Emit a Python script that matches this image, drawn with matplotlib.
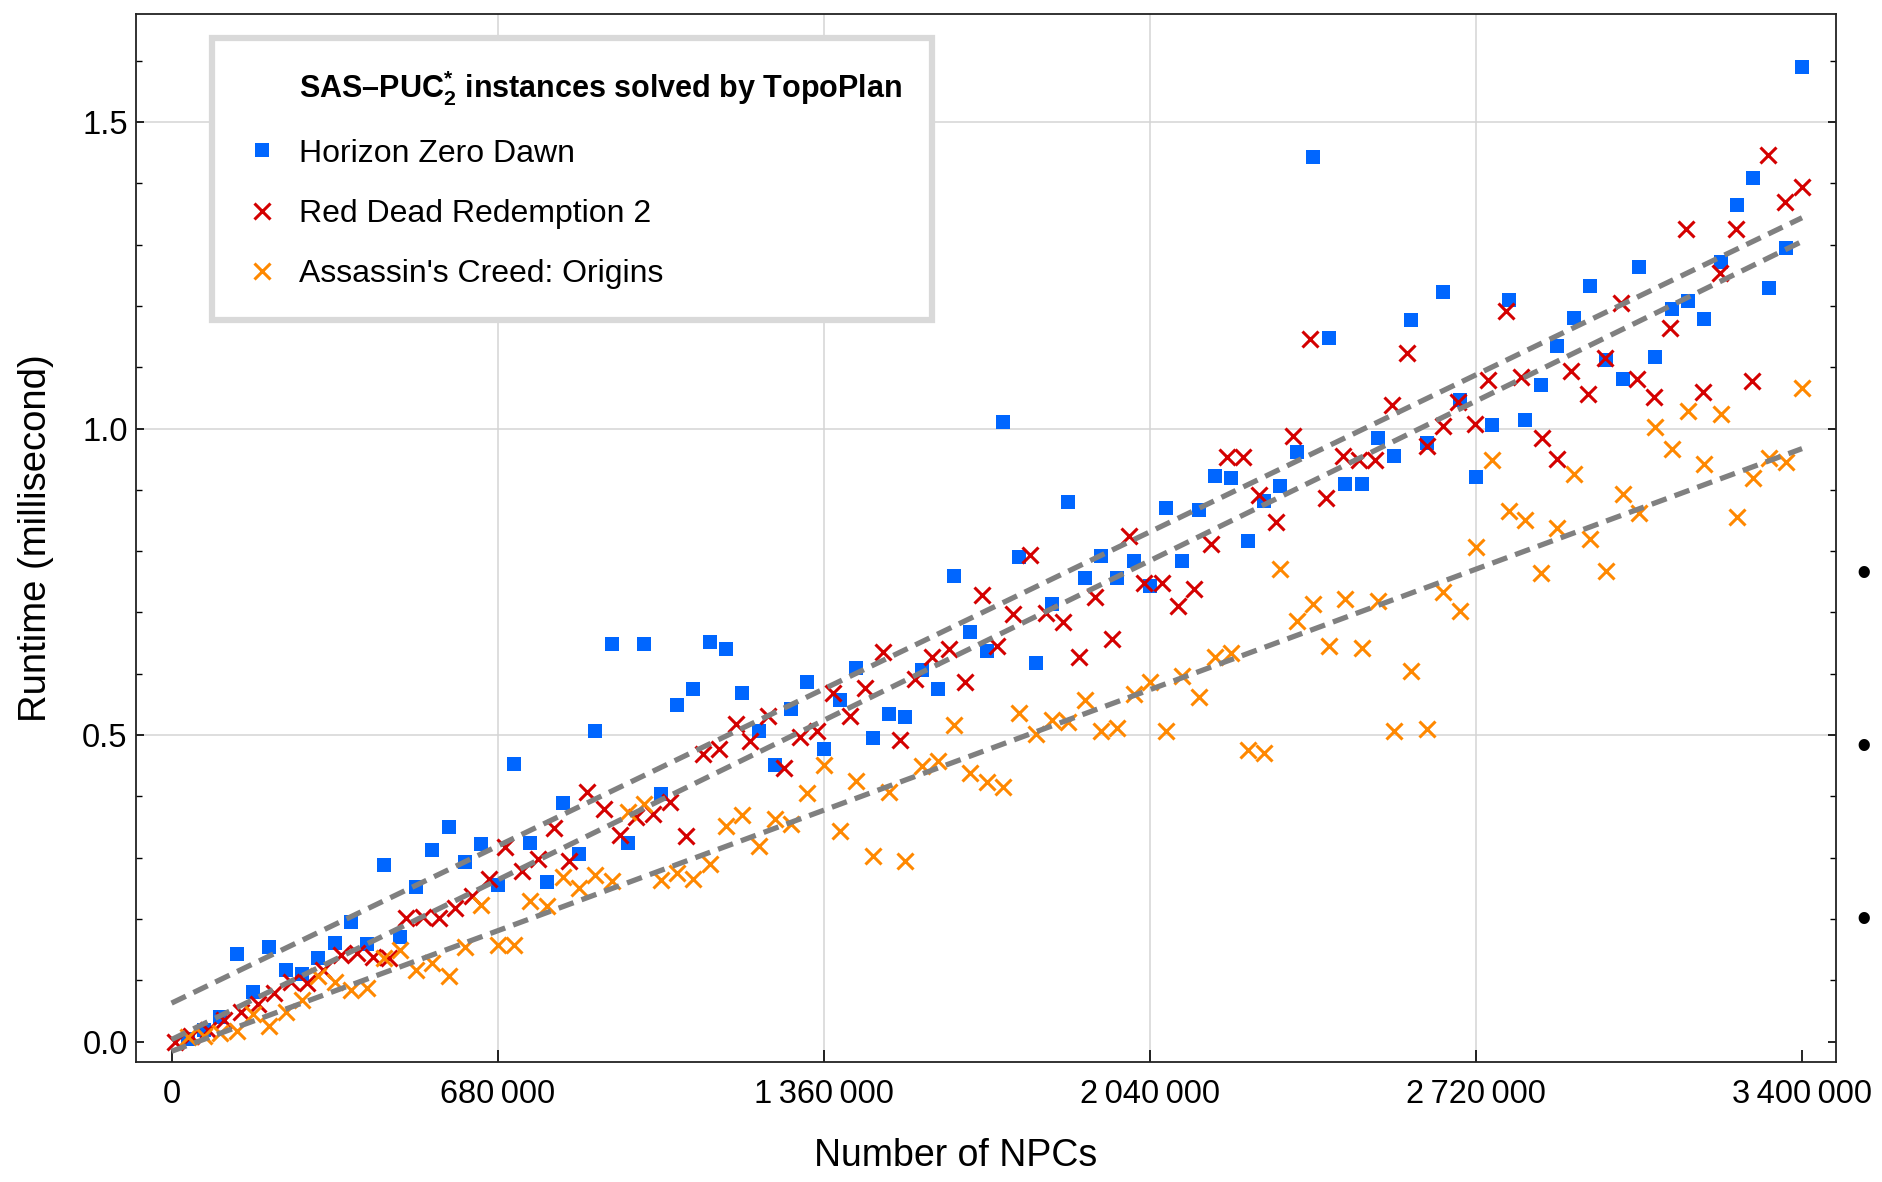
import numpy as np
import matplotlib.pyplot as plt
import matplotlib.font_manager as fm
from matplotlib.lines import Line2D
from matplotlib.ticker import FuncFormatter, MultipleLocator, FormatStrFormatter

# number of NPCs (thousands) for Horizon Zero Dawn / Assassin's Creed instances
npc_grid = [34, 68, 102, 136, 170, 204, 238, 272, 306, 340,
            374, 408, 442, 476, 510, 544, 578, 612, 646, 680,
            714, 748, 782, 816, 850, 884, 918, 952, 986, 1020,
            1054, 1088, 1122, 1156, 1190, 1224, 1258, 1292, 1326, 1360,
            1394, 1428, 1462, 1496, 1530, 1564, 1598, 1632, 1666, 1700,
            1734, 1768, 1802, 1836, 1870, 1904, 1938, 1972, 2006, 2040,
            2074, 2108, 2142, 2176, 2210, 2244, 2278, 2312, 2346, 2380,
            2414, 2448, 2482, 2516, 2550, 2584, 2618, 2652, 2686, 2720,
            2754, 2788, 2822, 2856, 2890, 2924, 2958, 2992, 3026, 3060,
            3094, 3128, 3162, 3196, 3230, 3264, 3298, 3332, 3366, 3400]

# number of NPCs (thousands) for Red Dead Redemption 2 instances
npc_rdr = [7, 41, 76, 110, 145, 180, 214, 249, 282, 316,
           353, 386, 420, 454, 488, 524, 557, 591, 626, 661,
           696, 730, 764, 798, 829, 867, 901, 935, 969, 1004,
           1039, 1073, 1108, 1141, 1176, 1207, 1243, 1278, 1311, 1346,
           1380, 1414, 1447, 1484, 1518, 1551, 1586, 1621, 1654, 1690,
           1722, 1755, 1790, 1823, 1858, 1893, 1926, 1961, 1996, 2028,
           2065, 2099, 2133, 2167, 2200, 2235, 2268, 2304, 2338, 2374,
           2407, 2442, 2477, 2510, 2544, 2577, 2617, 2651, 2682, 2719,
           2746, 2782, 2815, 2857, 2889, 2918, 2953, 2989, 3022, 3055,
           3091, 3125, 3159, 3194, 3228, 3262, 3296, 3330, 3365, 3399]

# runtimes in milliseconds
rt_hzd = [0.005, 0.020, 0.040, 0.143, 0.082, 0.155, 0.117, 0.111, 0.136, 0.161,
          0.195, 0.160, 0.288, 0.171, 0.253, 0.312, 0.351, 0.293, 0.322, 0.255,
          0.453, 0.324, 0.260, 0.389, 0.307, 0.506, 0.648, 0.324, 0.648, 0.404,
          0.549, 0.576, 0.652, 0.641, 0.568, 0.506, 0.452, 0.542, 0.586, 0.478,
          0.558, 0.610, 0.496, 0.534, 0.529, 0.606, 0.576, 0.759, 0.669, 0.637,
          1.010, 0.790, 0.617, 0.714, 0.880, 0.756, 0.792, 0.756, 0.784, 0.744,
          0.870, 0.784, 0.867, 0.923, 0.919, 0.816, 0.881, 0.907, 0.961, 1.442,
          1.148, 0.909, 0.909, 0.984, 0.955, 1.177, 0.976, 1.222, 1.046, 0.921,
          1.006, 1.210, 1.014, 1.071, 1.135, 1.180, 1.232, 1.112, 1.081, 1.263,
          1.116, 1.195, 1.208, 1.179, 1.272, 1.365, 1.409, 1.229, 1.295, 1.589]

rt_rdr = [0.000, 0.010, 0.020, 0.035, 0.048, 0.062, 0.079, 0.098, 0.096, 0.117,
          0.142, 0.144, 0.139, 0.136, 0.202, 0.204, 0.202, 0.218, 0.237, 0.265,
          0.318, 0.279, 0.298, 0.348, 0.294, 0.408, 0.379, 0.338, 0.366, 0.371,
          0.391, 0.336, 0.470, 0.477, 0.519, 0.490, 0.532, 0.446, 0.497, 0.506,
          0.569, 0.532, 0.577, 0.635, 0.492, 0.591, 0.627, 0.641, 0.587, 0.728,
          0.646, 0.698, 0.794, 0.699, 0.685, 0.627, 0.725, 0.657, 0.824, 0.748,
          0.748, 0.710, 0.738, 0.811, 0.954, 0.954, 0.892, 0.848, 0.987, 1.146,
          0.886, 0.955, 0.949, 0.948, 1.039, 1.123, 0.971, 1.004, 1.043, 1.008,
          1.079, 1.191, 1.084, 0.984, 0.950, 1.093, 1.057, 1.115, 1.205, 1.080,
          1.052, 1.164, 1.325, 1.059, 1.253, 1.325, 1.078, 1.446, 1.369, 1.394]

rt_aco = [0.008, 0.010, 0.014, 0.017, 0.045, 0.025, 0.049, 0.068, 0.107, 0.098,
          0.085, 0.088, 0.136, 0.150, 0.117, 0.128, 0.107, 0.155, 0.223, 0.158,
          0.158, 0.229, 0.221, 0.268, 0.250, 0.272, 0.262, 0.375, 0.387, 0.263,
          0.276, 0.265, 0.290, 0.352, 0.369, 0.319, 0.363, 0.355, 0.406, 0.452,
          0.344, 0.426, 0.303, 0.407, 0.295, 0.449, 0.458, 0.516, 0.439, 0.424,
          0.415, 0.536, 0.502, 0.525, 0.522, 0.557, 0.506, 0.511, 0.567, 0.586,
          0.506, 0.596, 0.562, 0.627, 0.634, 0.476, 0.471, 0.771, 0.686, 0.714,
          0.645, 0.722, 0.642, 0.718, 0.506, 0.604, 0.510, 0.734, 0.703, 0.806,
          0.948, 0.865, 0.851, 0.765, 0.838, 0.926, 0.820, 0.768, 0.894, 0.862,
          1.003, 0.966, 1.029, 0.942, 1.023, 0.855, 0.919, 0.952, 0.945, 1.066]

games = ["Horizon Zero Dawn", "Red Dead Redemption 2", "Assassin's Creed: Origins"]
legend_title = r"SAS–PUC$_{\mathbf{2}}^{\mathbf{*}}$ instances solved by TopoPlan"
x_ticks = [0, 680000, 1360000, 2040000, 2720000, 3400000]

installed = {f.name for f in fm.fontManager.ttflist}
narrow = "Liberation Sans Narrow" if "Liberation Sans Narrow" in installed else "Liberation Sans"
leg_size = 27 if narrow == "Liberation Sans Narrow" else 23

plt.rcParams["font.family"] = ["Liberation Sans", "DejaVu Sans"]
plt.rcParams["mathtext.fontset"] = "custom"
plt.rcParams["mathtext.rm"] = narrow
plt.rcParams["mathtext.bf"] = narrow + ":bold"

blue = "#0066ff"
red = "#d40000"
orange = "#ff8800"

x_grid = np.array(npc_grid) * 1000
x_rdr = np.array(npc_rdr) * 1000

fig = plt.figure(figsize=(18.82, 11.82), dpi=100)
ax = fig.add_axes([0.0723, 0.1015, 0.9033, 0.8867])

# light grid
for v in x_ticks[1:-1]:
    ax.axvline(v, color="#d4d4d4", lw=1.1, zorder=0)
for v in [0.5, 1.0, 1.5]:
    ax.axhline(v, color="#d4d4d4", lw=1.1, zorder=0)

h1, = ax.plot(x_grid, rt_hzd, ls="none", marker="s", ms=9.8, mew=0, color=blue, zorder=3)
h2, = ax.plot(x_rdr, rt_rdr, ls="none", marker="x", ms=11.5, mew=2.2, color=red, zorder=3)
h3, = ax.plot(x_grid, rt_aco, ls="none", marker="x", ms=11.5, mew=2.2, color=orange, zorder=3)

# linear fits
xx = np.array([0, 3400000])
for xs, ys in [(x_grid, rt_hzd), (x_rdr, rt_rdr), (x_grid, rt_aco)]:
    slope, icpt = np.polyfit(xs, ys, 1)
    ax.plot(xx, icpt + slope * xx, color="#808080", lw=3.8, dashes=(3.0, 1.6), zorder=4)

ax.set_xlim(-74000, 3471000)
ax.set_ylim(-0.033, 1.676)

ax.set_xticks(x_ticks)
ax.xaxis.set_major_formatter(FuncFormatter(lambda v, p: f"{int(v):,}".replace(",", "\u2009")))
ax.yaxis.set_major_locator(MultipleLocator(0.5))
ax.yaxis.set_minor_locator(MultipleLocator(0.1))
ax.yaxis.set_major_formatter(FormatStrFormatter("%.1f"))

ax.tick_params(axis="x", direction="in", length=9, width=1.2, labelsize=23.5, pad=12, top=False)
ax.tick_params(axis="y", which="major", direction="in", length=6, width=1.2, labelsize=23.5,
               pad=6, left=True, right=True)
ax.tick_params(axis="y", which="minor", direction="in", length=4.5, width=1.0, left=True, right=True)

for s in ax.spines.values():
    s.set_linewidth(1.3)
    s.set_color("#222222")

ax.set_xlabel("Number of NPCs", fontsize=27)
ax.xaxis.set_label_coords(0.482, -0.0725)
ax.set_ylabel("Runtime (millisecond)", fontsize=27.5)
ax.yaxis.set_label_coords(-0.048, 0.5)

handles = [Line2D([], [], ls="none"), h1, h2, h3]
leg = ax.legend(handles, [legend_title] + games, loc="upper left",
                bbox_to_anchor=(0.0447, 0.977), borderaxespad=0,
                prop={"family": [narrow, "DejaVu Sans"], "size": leg_size},
                frameon=True, fancybox=False, framealpha=1, edgecolor="#d9d9d9",
                borderpad=0.95, handlelength=1.2, handletextpad=0.56, labelspacing=0.95)
leg.get_frame().set_linewidth(4.5)
title_txt = leg.get_texts()[0]
title_txt.set_fontweight("bold")
title_txt.set_fontsize(leg_size - 1)

# bullets cut off at the right edge of the page
for yb in [0.5135, 0.3675, 0.2205]:
    fig.text(0.9904, yb, "\u2022", fontsize=30, ha="center", va="center")

fig.savefig("out.png", dpi=100)
